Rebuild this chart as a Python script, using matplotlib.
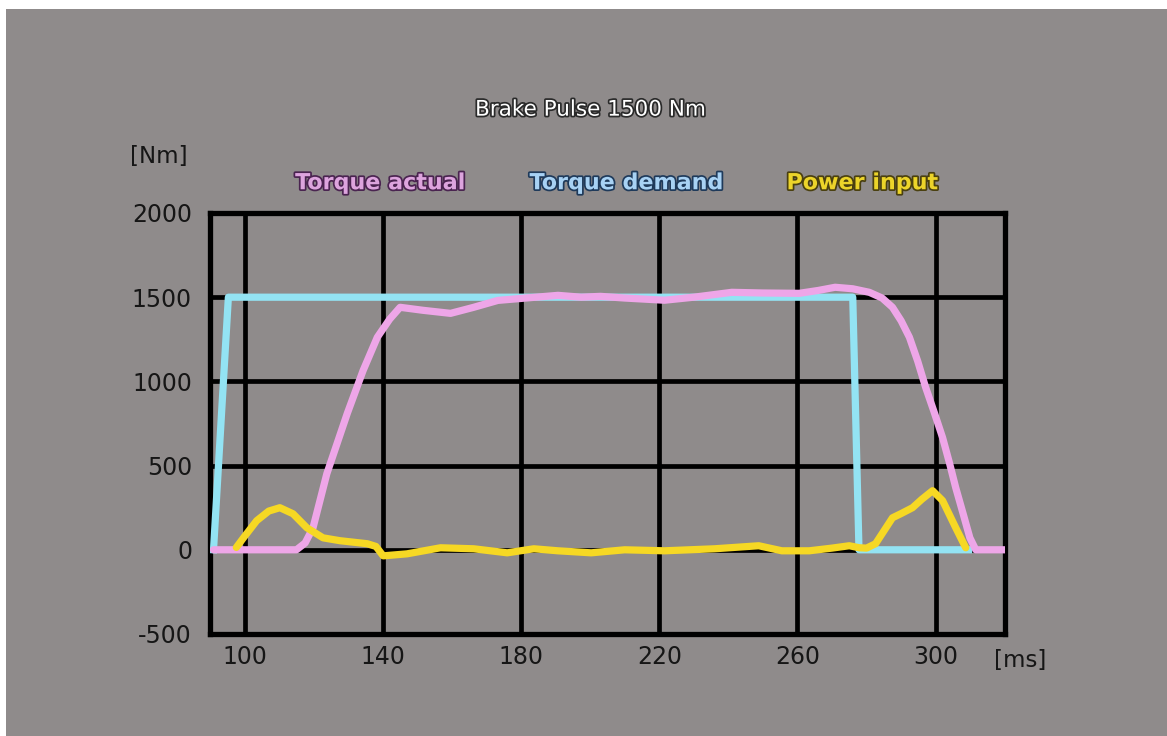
import matplotlib.pyplot as plt
import matplotlib.patheffects as pe
from matplotlib.patches import Rectangle

plt.rcParams['axes.unicode_minus'] = False

# values
demand_t = [91, 95.3, 276, 277.8, 309.5]
demand_v = [0, 1500, 1500, 0, 0]

actual_t = [91, 115, 117.5, 119.8, 123.8, 129.7, 134.3, 138.4, 142, 145, 151.7,
            159.6, 166.3, 173.3, 180.8, 190.7, 197.4, 203, 210, 221.5, 230, 241,
            250, 260.5, 266, 270.9, 276, 280.8, 284.5, 287.5, 290, 292.4, 294.8,
            297.1, 299.6, 302, 304, 305.8, 308, 309.9, 311.6, 320]
actual_v = [0, 0, 40, 131, 452, 809, 1065, 1262, 1370, 1440, 1422,
            1404, 1440, 1481, 1494, 1511, 1500, 1505, 1495, 1482, 1500, 1529,
            1525, 1523, 1540, 1559, 1550, 1529, 1495, 1440, 1360, 1262, 1120,
            964, 815, 666, 515, 369, 210, 71, 0, 0]

power_t = [97.6, 100, 103.5, 107, 110.2, 114, 118, 122.7, 127.6, 135.5, 138,
           140.1, 147, 156.7, 166.3, 176, 183.7, 190.7, 200.3, 210, 221.5, 236,
           248.8, 255.5, 263.4, 270, 275, 277.9, 280, 282.6, 287.5, 290, 293.3,
           296, 299.1, 302, 305.8, 308.7]
power_v = [14, 80, 173, 230, 250, 214, 131, 71, 54, 36, 20,
           -36, -24, 12, 6, -18, 6, -6, -18, 0, -6, 6,
           24, -6, -6, 10, 24, 12, 10, 36, 190, 215, 250,
           300, 351, 292, 131, 12]

x_ticks = [100, 140, 180, 220, 260, 300]
y_ticks = [-500, 0, 500, 1000, 1500, 2000]

BG = '#8f8b8b'
PINK = '#eea6e8'
CYAN = '#93e3f3'
YELLOW = '#f6d824'
TXT = '#161616'

fig = plt.figure(figsize=(11.67, 7.36), dpi=100, facecolor=BG)
# thin white margin at top and left, as in the source screenshot
fig.patches.append(Rectangle((0, 0), 6 / 1167, 1, transform=fig.transFigure,
                             facecolor='white', edgecolor='none'))
fig.patches.append(Rectangle((0, 1 - 9 / 736), 1, 9 / 736, transform=fig.transFigure,
                             facecolor='white', edgecolor='none'))

ax = fig.add_axes([0.18, 0.1386, 0.681, 0.572])
ax.set_facecolor(BG)

ax.plot(demand_t, demand_v, color=CYAN, lw=5.2, zorder=3)
ax.plot(actual_t, actual_v, color=PINK, lw=5.2, zorder=4,
        solid_joinstyle='round', solid_capstyle='round')
ax.plot(power_t, power_v, color=YELLOW, lw=5.2, zorder=5,
        solid_joinstyle='round', solid_capstyle='round')

ax.set_xlim(90, 320)
ax.set_ylim(-500, 2000)
ax.set_xticks(x_ticks)
ax.set_yticks(y_ticks)
ax.grid(True, color='black', lw=3.4, zorder=1)
ax.set_axisbelow(True)
for s in ax.spines.values():
    s.set_color('black')
    s.set_linewidth(3.8)
ax.tick_params(length=0, labelsize=17, labelcolor=TXT, pad=13)
ax.tick_params(axis='x', pad=8)

fig.text(0.111, 0.787, '[Nm]', fontsize=16.5, color=TXT, va='center', ha='left')
fig.text(0.852, 0.103, '[ms]', fontsize=16.5, color=TXT, va='center', ha='left')

outline = [pe.withStroke(linewidth=2.5, foreground='#2a2a2a')]
fig.text(0.506, 0.851, 'Brake Pulse 1500 Nm', fontsize=15.5, color='white',
         ha='center', va='center', path_effects=outline)

legend_items = [('Torque actual', 0.326, '#dda4de', '#4a2450'),
                ('Torque demand', 0.537, '#a8d2f4', '#1f3a5a'),
                ('Power input', 0.739, '#ecd42a', '#4a4010')]
for label, xpos, fill, edge in legend_items:
    fig.text(xpos, 0.751, label, fontsize=16, color=fill, ha='center', va='center',
             fontweight='bold',
             path_effects=[pe.withStroke(linewidth=2.5, foreground=edge)])

fig.savefig('out.png', dpi=100, facecolor=fig.get_facecolor())
